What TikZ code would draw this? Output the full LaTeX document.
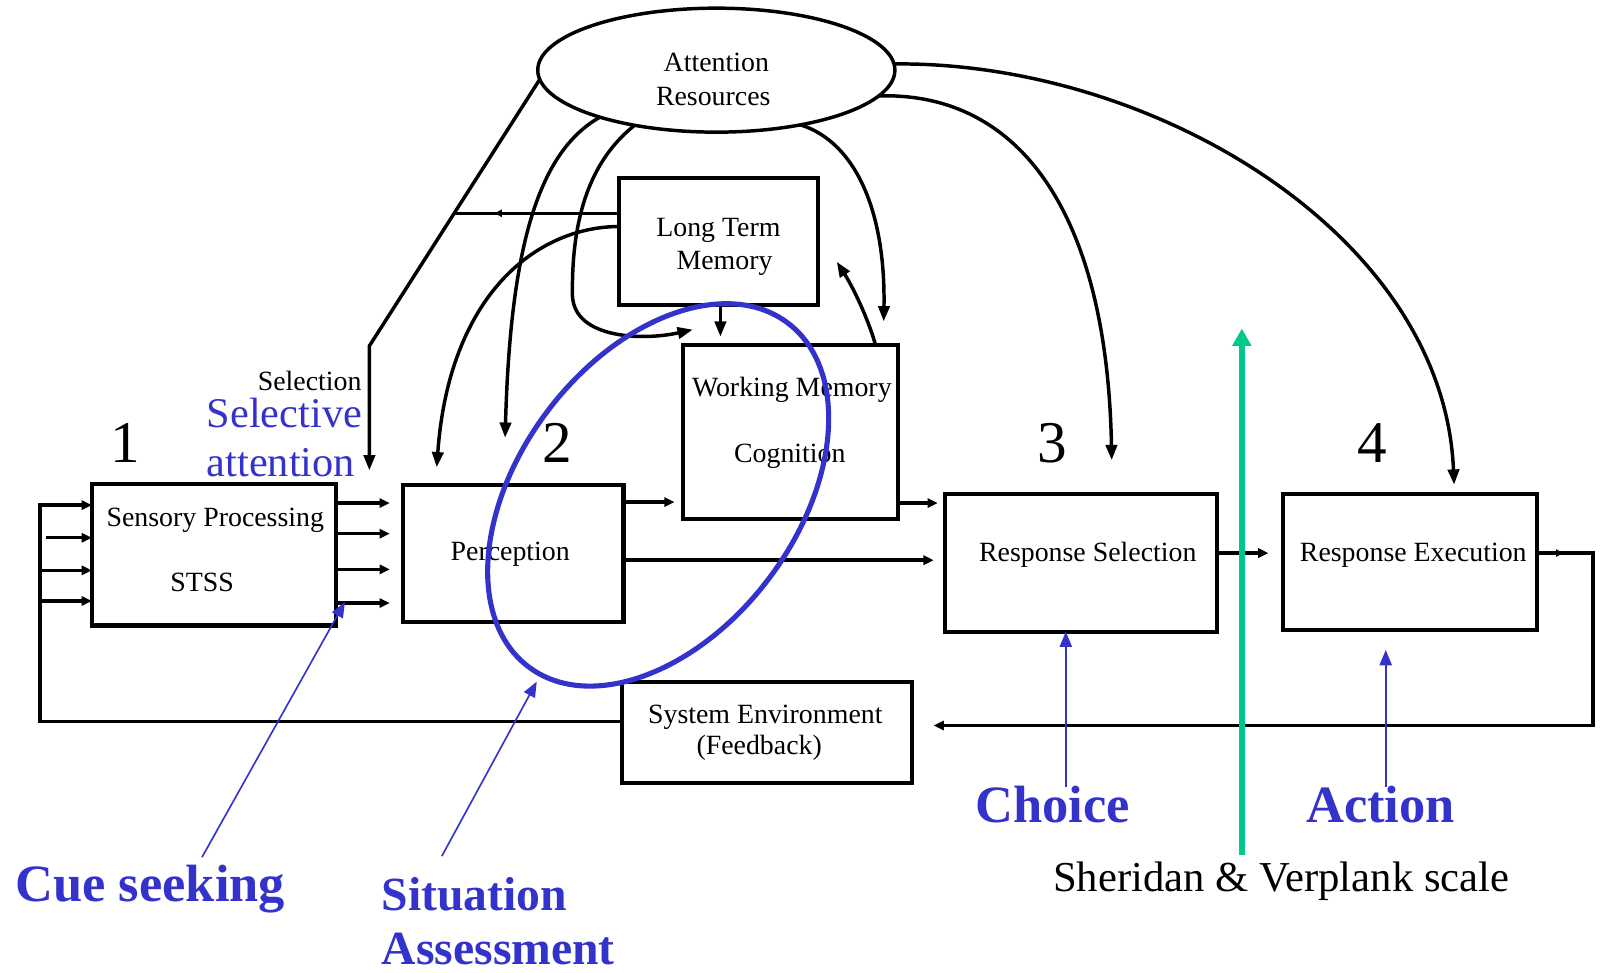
\documentclass[tikz,border=0pt]{standalone}
\usepackage{fontspec}
\setmainfont{Liberation Serif}
\usetikzlibrary{arrows.meta,calc,shapes.geometric,decorations.markings}
\definecolor{annot}{RGB}{51,51,204}
\definecolor{scalegreen}{RGB}{0,200,140}
\begin{document}
\begin{tikzpicture}[x=1pt, y=-1pt,
  box/.style={draw, line width=4pt, rectangle, inner sep=0pt, outer sep=0pt},
  boxtext/.style={font=\fontsize{27.3}{30}\selectfont, inner sep=0pt},
  digit/.style={font=\fontsize{58}{60}\selectfont, inner sep=0pt},
  wire/.style={line width=3.4pt},
  arr/.style={wire, -{Triangle[length=10pt,width=9pt]}},
  carr/.style={wire, -{Triangle[length=15pt,width=11pt]}},
  note/.style={text=annot, inner sep=0pt},
  bignote/.style={note, font=\fontsize{51.4}{54}\selectfont\bfseries},
  midnote/.style={note, font=\fontsize{46.7}{50}\selectfont\bfseries},
  pointer/.style={annot, line width=1.6pt, -{Triangle[length=15pt,width=12pt]}},
]
\useasboundingbox (0,0) rectangle (1568,953);

% ---- boxes -------------------------------------------------------------
\node[ellipse, draw, line width=3.4pt, minimum width=350pt, minimum height=121.5pt,
      inner sep=0pt, outer sep=0pt] (att) at (702,68.75) {};
\node[box, minimum width=239pt, minimum height=139pt] (sp)   at (209.5,543.5) {};
\node[box, minimum width=216pt, minimum height=135pt] (perc) at (503,542.5) {};
\node[box, minimum width=195pt, minimum height=125pt] (ltm)  at (704.5,236.5) {};
\node[box, minimum width=211pt, minimum height=171pt] (wm)   at (774.5,423.5) {};
\node[box, minimum width=267pt, minimum height=135pt] (rs)   at (1059.5,551.5) {};
\node[box, minimum width=249pt, minimum height=133pt] (re)   at (1381.5,550.5) {};
\node[box, minimum width=284pt, minimum height=99pt]  (se)   at (752,717.5) {};

% ---- box labels --------------------------------------------------------
\node[boxtext, anchor=base] (att-l1) at (702,70.5) {Attention};
\node[boxtext, anchor=base] (att-l2) at (699,103) {Resources};
\node[boxtext, anchor=base] (sp-l1) at (211,516) {Sensory Processing};
\node[boxtext, anchor=base] (sp-l2) at (198,580) {STSS};
\node[boxtext, anchor=base] (perc-l) at (500,549) {Perception};
\node[boxtext, anchor=base] (ltm-l1) at (704,232) {Long Term};
\node[boxtext, anchor=base] (ltm-l2) at (710,264) {Memory};
\node[boxtext, anchor=base] (wm-l1) at (776,389) {Working Memory};
\node[boxtext, anchor=base] (wm-l2) at (774,453) {Cognition};
\node[boxtext, anchor=base] (rs-l) at (1066,550) {Response Selection};
\node[boxtext, anchor=base] (re-l) at (1385,550) {Response Execution};
\node[boxtext, anchor=base] (se-l1) at (750,709) {System Environment};
\node[boxtext, anchor=base] (se-l2) at (744,739) {(Feedback)};
\node[boxtext, anchor=base east] (sel-l) at (354.5,383) {Selection};

% ---- stage numbers -----------------------------------------------------
\node[digit, anchor=base] (n1) at (122.5,453) {1};
\node[digit, anchor=base] (n2) at (546,453) {2};
\node[digit, anchor=base] (n3) at (1031,453) {3};
\node[digit, anchor=base] (n4) at (1345,453) {4};

% ---- straight flow -----------------------------------------------------
\coordinate (fb-corner) at (39,495);
\draw[arr] (se.west |- 0,707) -| (fb-corner) -- (sp.west |- fb-corner);
\draw[arr] ($(fb-corner |- 0,527)+(6,0)$) -- (sp.west |- 0,527);
\draw[arr] (fb-corner |- 0,559) -- (sp.west |- 0,559);
\draw[arr] (fb-corner |- 0,589) -- (sp.west |- 0,589);

\foreach \yy in {493,523,558,591}
  \draw[arr, shorten >=13pt] (sp.east |- 0,\yy) -- (perc.west |- 0,\yy);

\draw[arr, shorten >=8pt]  (perc.east |- 0,492) -- (wm.west |- 0,492);
\draw[arr, shorten >=11pt] (perc.east |- 0,549) -- (rs.west |- 0,549);
\draw[arr, shorten >=7pt]  (wm.east |- 0,493) -- (rs.west |- 0,493);
\draw[arr, shorten >=14pt] (rs.east |- 0,542) -- (re.west |- 0,542);

\coordinate (fb-right) at (1561,542);
\draw[arr, shorten >=21pt] (re.east |- fb-right) -- (fb-right) |- (se.east |- 0,711);
\draw[wire, -{Triangle[length=7pt,width=7pt]}] (re.east |- fb-right) -- ++(26,0);

% ---- selection path from the attention resources -----------------------
\coordinate (sel-bend) at (362,339);
\coordinate (sel-tip) at (362,461);
\coordinate (sel-join) at (444,209);
\draw[carr] (att.-177.4) -- (sel-bend) -- (sel-tip);
\draw[wire, postaction={decorate},
  decoration={markings, mark=at position 0.75 with {\arrow{Triangle[length=7pt,width=7pt]}}}]
  (ltm.west |- sel-join) -- (sel-join);

% ---- curved resource and memory links ----------------------------------
\draw[carr] (att.-158) .. controls (525,150) and (500,250) .. ($(perc.north west)+(100,-46)$);
\draw[carr] (att.-146.5) .. controls (575,160) and (560,220) .. (561,290)
            .. controls (563,332) and (630,334) .. ($(wm.north west)+(10,-15)$);
\draw[carr] (ltm.west |- 0,222) .. controls (525,222) and (440,290) .. ($(perc.north west)+(33,-17)$);
\draw[carr] ($(ltm.south)+(1.5,0)$) -- ($(wm.north -| ltm.south)+(1.5,-8)$);
\draw[carr] ($(wm.north east)+(-22,0)$) .. controls (850,310) and (835,280) .. ($(ltm.east)+(18,20)$);
\draw[carr] (att.-33.5) .. controls (840,140) and (868,210) .. ($(wm.north east)+(-14,-23)$);
\draw[carr] (att.-9.2) .. controls (1000,90) and (1085,210) .. ($(rs.north west)+(163.5,-33)$);
\draw[carr] (att.2.3) .. controls (1130,60) and (1415,230) .. ($(re.north west)+(168,-9)$);

% ---- annotations -------------------------------------------------------
\node[note, font=\fontsize{41.5}{44}\selectfont, anchor=base west] (selatt1) at (202.5,419) {Selective};
\node[note, font=\fontsize{41.5}{44}\selectfont, anchor=base west] (selatt2) at (202.5,467) {attention};

\draw[annot, line width=5pt, rotate around={53:(645,485)}] (645,485) ellipse [x radius=211, y radius=136];

\node[bignote, anchor=base west] (cue) at (15,883) {Cue seeking};
\node[midnote, anchor=base west] (sit1) at (374,892) {Situation};
\node[midnote, anchor=base west] (sit2) at (374,945) {Assessment};
\node[bignote, anchor=base west] (choice) at (956,806) {Choice};
\node[bignote, anchor=base west] (action) at (1280,806) {Action};

\coordinate (cue-tail) at (198,840);
\coordinate (sit-tail) at (433,839);
\coordinate (sit-tip) at (526,668);
\coordinate (choice-tail) at (1044.5,771);
\coordinate (action-tail) at (1358,771);
\draw[pointer] (cue-tail) -- ($(sp.south east)+(9,-23)$);
\draw[pointer] (sit-tail) -- (sit-tip);
\draw[pointer] (choice-tail) -- (rs.south -| choice-tail);
\draw[pointer] (action-tail) -- ($(re.south -| action-tail)+(0,20)$);

% ---- Sheridan & Verplank scale -----------------------------------------
\coordinate (sv-foot) at (1217,838);
\coordinate (sv-head) at (1217,322);
\draw[scalegreen, line width=5.5pt, -{Triangle[length=17pt,width=18pt]}] (sv-foot) -- (sv-head);
\node[font=\fontsize{41.8}{44}\selectfont, anchor=base west, inner sep=0pt] (sv) at (1032,874) {Sheridan \& Verplank scale};
\end{tikzpicture}
\end{document}
